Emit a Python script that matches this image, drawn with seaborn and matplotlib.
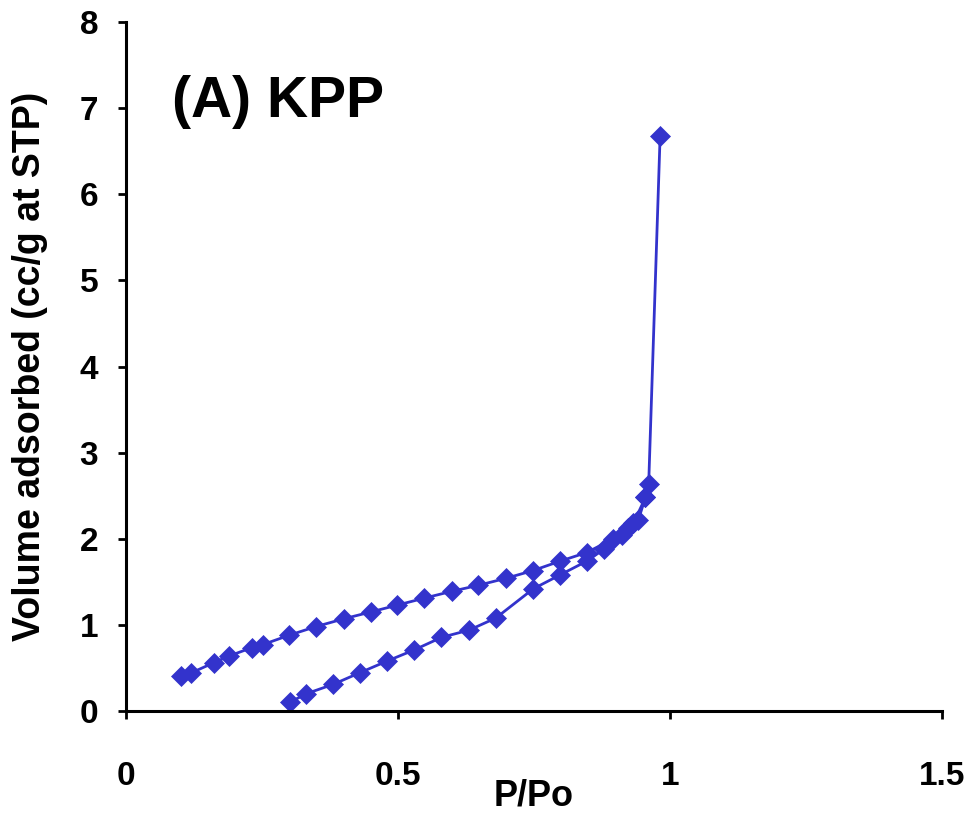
import matplotlib
matplotlib.use("Agg")
import matplotlib.pyplot as plt
import pandas as pd
import seaborn as sns

# branch starting at P/Po = 0.3 (runs up to the last point)
p_low = [0.301, 0.331, 0.381, 0.430, 0.480, 0.530, 0.580, 0.631, 0.680, 0.749,
         0.798, 0.847, 0.879, 0.911, 0.933, 0.955, 0.961, 0.982]
v_low = [0.10, 0.20, 0.31, 0.445, 0.58, 0.71, 0.855, 0.94, 1.08, 1.42,
         1.58, 1.74, 1.88, 2.04, 2.18, 2.48, 2.64, 6.68]

# branch starting at P/Po = 0.1
p_up = [0.102, 0.119, 0.161, 0.190, 0.231, 0.251, 0.300, 0.349, 0.400, 0.450,
        0.499, 0.548, 0.599, 0.648, 0.698, 0.748, 0.798, 0.847, 0.896, 0.923,
        0.942, 0.955]
v_up = [0.41, 0.44, 0.56, 0.64, 0.735, 0.77, 0.88, 0.98, 1.07, 1.15,
        1.23, 1.31, 1.39, 1.46, 1.54, 1.63, 1.74, 1.84, 2.00, 2.12,
        2.22, 2.48]

df = pd.DataFrame({
    "p": p_low + p_up,
    "v": v_low + v_up,
    "branch": ["low"] * len(p_low) + ["up"] * len(p_up),
})

sns.set_style("ticks")
plt.rcParams["font.family"] = ["Liberation Sans", "DejaVu Sans"]
plt.rcParams["font.weight"] = "bold"
plt.rcParams["text.color"] = "black"
plt.rcParams["axes.labelcolor"] = "black"

color = "#3333CC"
fig = plt.figure(figsize=(9.73, 8.14), dpi=100)
ax = fig.add_axes([0.1295, 0.1265, 0.8385, 0.8465])

sns.lineplot(data=df, x="p", y="v", hue="branch", palette=[color, color],
             units="branch", estimator=None, sort=False, marker="D",
             markersize=10.5, markeredgewidth=0.5, markeredgecolor=color,
             linewidth=2, legend=False, ax=ax)

ax.set_xlim(0, 1.5)
ax.set_ylim(0, 8)
ax.set_xticks([0, 0.5, 1, 1.5])
ax.set_xticklabels(["0", "0.5", "1", "1.5"])
ax.set_yticks(range(0, 9))

sns.despine(ax=ax)
for s in ["left", "bottom"]:
    ax.spines[s].set_linewidth(2.2)
    ax.spines[s].set_color("black")

ax.tick_params(axis="both", direction="out", length=6, width=2, colors="black",
               labelsize=24)
ax.tick_params(axis="x", pad=30)
ax.tick_params(axis="y", pad=14)
for lbl in ax.get_xticklabels() + ax.get_yticklabels():
    lbl.set_fontweight("bold")

ax.set_xlabel("P/Po", fontsize=26, fontweight="bold", labelpad=-10)
ax.set_ylabel("Volume adsorbed (cc/g at STP)", fontsize=27, fontweight="bold",
              labelpad=23)

ax.text(0.056, 0.862, "(A) KPP", transform=ax.transAxes, fontsize=41,
        fontweight="bold", ha="left", va="baseline", color="black")

fig.savefig("out.png", dpi=100)
